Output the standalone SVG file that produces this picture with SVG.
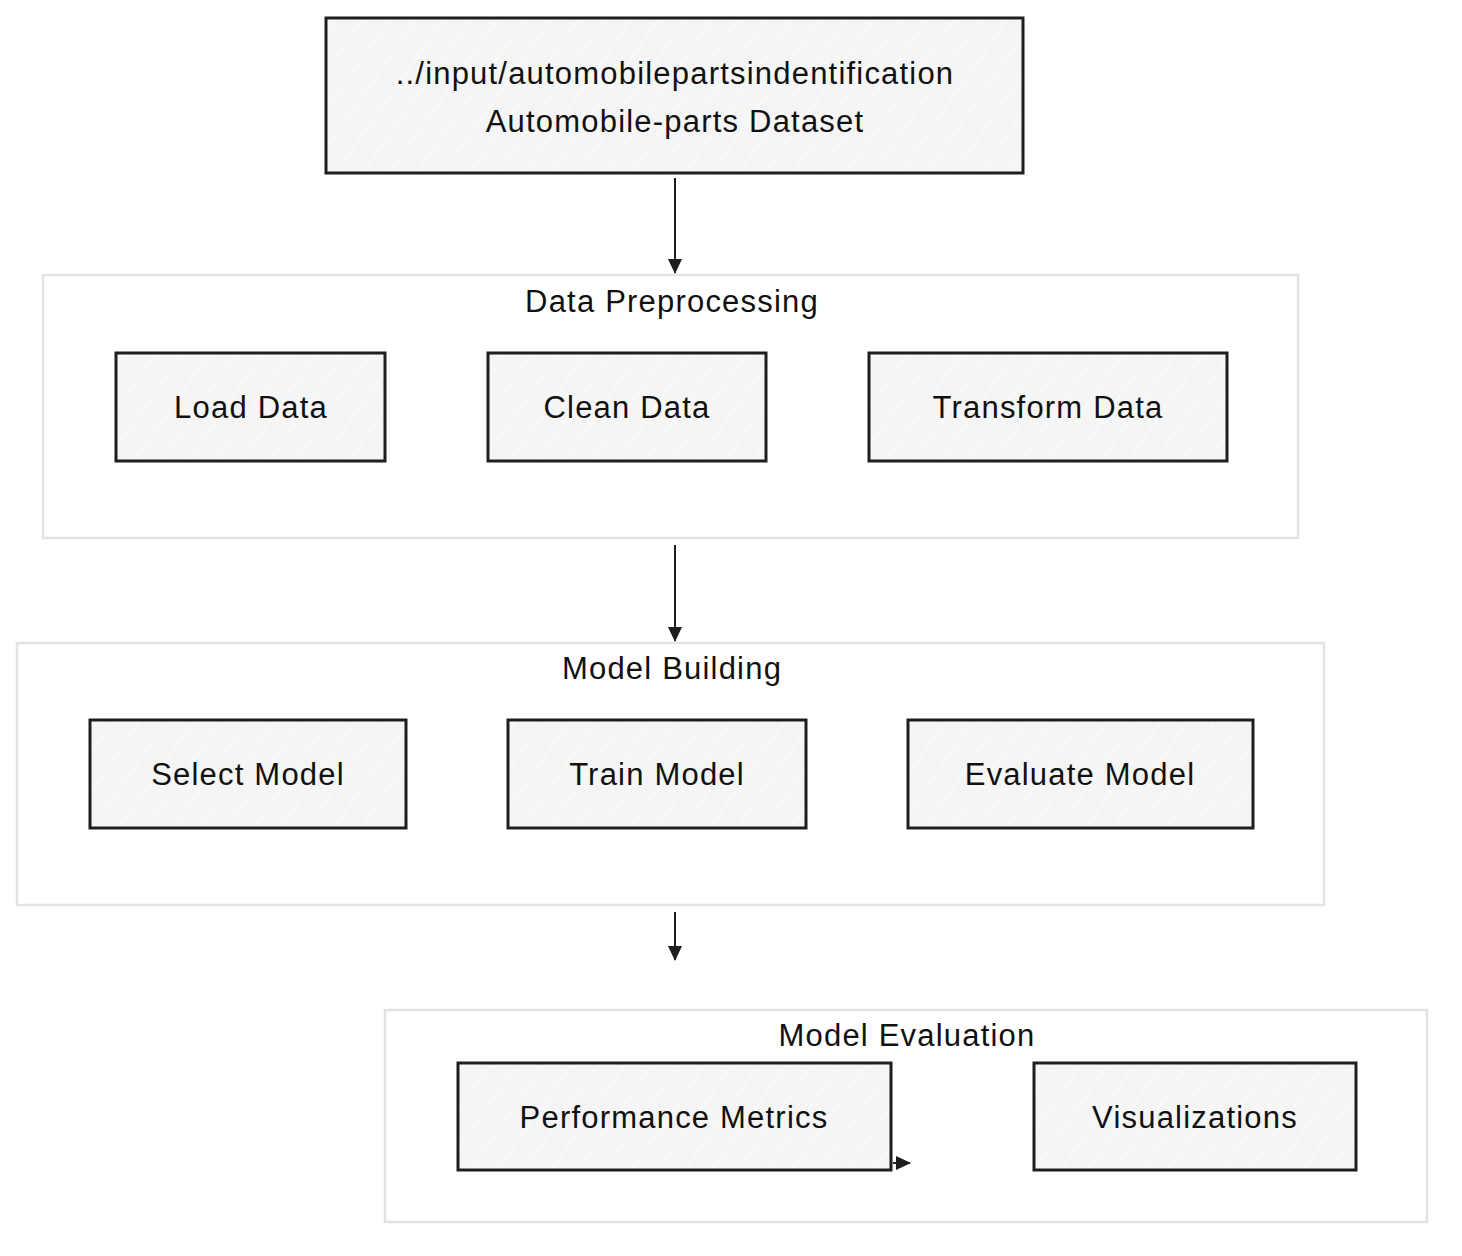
<svg xmlns="http://www.w3.org/2000/svg" width="1462" height="1256" viewBox="0 0 1462 1256">
<defs>
<pattern id="hatch" patternUnits="userSpaceOnUse" width="22" height="22" patternTransform="rotate(35)">
<rect width="22" height="22" fill="#f5f5f5"/>
<line x1="0" y1="0" x2="0" y2="22" stroke="#ffffff" stroke-width="1.5"/>
</pattern>
<marker id="arr" markerWidth="16" markerHeight="16" refX="14" refY="7" orient="auto" markerUnits="userSpaceOnUse">
<path d="M0,0 L15,7 L0,14 Z" fill="#1e1e1e"/>
</marker>
</defs>
<style>
.node{fill:url(#hatch);stroke:#1e1e1e;stroke-width:3}
.grp{fill:none;stroke:#e3e3e3;stroke-width:2.5}
.t{font-family:"Liberation Sans",Arial,sans-serif;font-size:31px;letter-spacing:1.2px;fill:#111;text-anchor:middle}
.edge{stroke:#1e1e1e;stroke-width:2;fill:none}
</style>
<rect width="1462" height="1256" fill="#ffffff"/>

<g id="dataset">
<rect class="node" x="326" y="18" width="697" height="155"/>
<text class="t" x="675" y="84">../input/automobilepartsindentification</text>
<text class="t" x="675" y="132">Automobile-parts Dataset</text>
</g>

<g id="data-preprocessing">
<rect class="grp" x="43" y="275" width="1255" height="263"/>
<text class="t" x="672" y="312">Data Preprocessing</text>
</g>
<g id="load-data">
<rect class="node" x="116" y="353" width="269" height="108"/>
<text class="t" x="251" y="418">Load Data</text>
</g>
<g id="clean-data">
<rect class="node" x="488" y="353" width="278" height="108"/>
<text class="t" x="627" y="418">Clean Data</text>
</g>
<g id="transform-data">
<rect class="node" x="869" y="353" width="358" height="108"/>
<text class="t" x="1048" y="418">Transform Data</text>
</g>

<g id="model-building">
<rect class="grp" x="17" y="643" width="1307" height="262"/>
<text class="t" x="672" y="679">Model Building</text>
</g>
<g id="select-model">
<rect class="node" x="90" y="720" width="316" height="108"/>
<text class="t" x="248" y="785">Select Model</text>
</g>
<g id="train-model">
<rect class="node" x="508" y="720" width="298" height="108"/>
<text class="t" x="657" y="785">Train Model</text>
</g>
<g id="evaluate-model">
<rect class="node" x="908" y="720" width="345" height="108"/>
<text class="t" x="1080" y="785">Evaluate Model</text>
</g>

<g id="model-evaluation">
<rect class="grp" x="385" y="1010" width="1042" height="212"/>
<text class="t" x="907" y="1046">Model Evaluation</text>
</g>
<g id="performance-metrics">
<rect class="node" x="458" y="1063" width="433" height="107"/>
<text class="t" x="674" y="1128">Performance Metrics</text>
</g>
<g id="visualizations">
<rect class="node" x="1034" y="1063" width="322" height="107"/>
<text class="t" x="1195" y="1128">Visualizations</text>
</g>

<g id="connectors">
<path class="edge" d="M675,178 L675,273" marker-end="url(#arr)"/>
<path class="edge" d="M675,545 L675,641" marker-end="url(#arr)"/>
<path class="edge" d="M675,912 L675,960" marker-end="url(#arr)"/>
<path class="edge" d="M893,1163 L910,1163" marker-end="url(#arr)"/>
</g>
</svg>
